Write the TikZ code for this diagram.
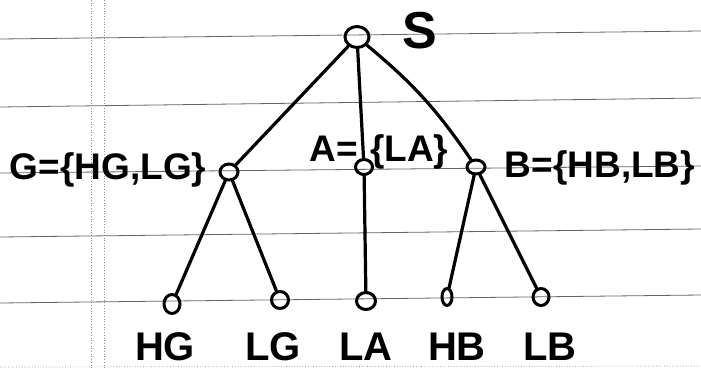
\documentclass[tikz,border=0pt]{standalone}
\usepackage{fontspec}
\setmainfont{Liberation Sans}
\usetikzlibrary{shapes.geometric}
\tikzset{
  ruling/.style={draw=black!60, line width=0.8pt},
  margin/.style={draw=black!45, line width=0.7pt, dotted},
  tnode/.style={draw, ellipse, line width=3pt, inner sep=0pt},
  edge/.style={draw, line width=3.2pt, line cap=round},
  setlabel/.style={font=\bfseries\fontsize{37}{40}\selectfont, inner sep=0pt},
  leaflabel/.style={font=\bfseries\fontsize{40}{44}\selectfont, inner sep=0pt},
}
\begin{document}
\begin{tikzpicture}[x=1pt,y=-1pt]
\useasboundingbox (0,0) rectangle (701,369);
\fill[white] (0,0) rectangle (701,369);
% notebook paper
\draw[ruling] (0,39) -- (701,31);
\draw[ruling] (0,107) -- (701,98);
\draw[ruling] (0,173) -- (701,166);
\draw[ruling] (0,237) -- (701,229);
\draw[ruling] (0,303) -- (701,295);
\draw[margin] (0,367) -- (701,366);
\draw[margin] (91,0) -- (91,369);
\draw[margin] (104,0) -- (104,369);
% tree nodes
\node[tnode, minimum width=24pt, minimum height=21pt] (S) at (357,37) {};
\node[tnode, minimum width=18pt, minimum height=16pt] (G) at (229,172) {};
\node[tnode, minimum width=17pt, minimum height=15pt] (A) at (364,167) {};
\node[tnode, minimum width=18pt, minimum height=14pt] (B) at (476,167) {};
\node[tnode, minimum width=16pt, minimum height=19pt] (HG) at (172,304) {};
\node[tnode, minimum width=17pt, minimum height=17pt] (LG) at (280,300) {};
\node[tnode, minimum width=19pt, minimum height=17pt] (LA) at (366,301) {};
\node[tnode, minimum width=10pt, minimum height=17pt] (HB) at (447,297) {};
\node[tnode, minimum width=16pt, minimum height=17pt] (LB) at (541,297) {};
% edges
\draw[edge] (S) -- (G);
\draw[edge] (S) -- (A);
\draw[edge] (S) to[bend left=8] (B);
\draw[edge] (G) -- (HG);
\draw[edge] (G) -- (LG);
\draw[edge] (A) -- (LA);
\draw[edge] (B) -- (HB);
\draw[edge] (B) -- (LB);
% labels
\node[font=\bfseries\fontsize{52}{56}\selectfont, inner sep=0pt] (lS) at (420,31) {S};
\node[setlabel] (lG) at (108,170) {G=\{HG,LG\}};
\node[setlabel] (lA) at (379,152) {A=\hspace{12pt}\{LA\}};
\node[setlabel] (lB) at (600,168) {B=\{HB,LB\}};
\node[leaflabel] (lHG) at (165,347) {HG};
\node[leaflabel] (lLG) at (273,347) {LG};
\node[leaflabel] (lLA) at (366,347) {LA};
\node[leaflabel] (lHB) at (457,347) {HB};
\node[leaflabel] (lLB) at (550,347) {LB};
\end{tikzpicture}
\end{document}
